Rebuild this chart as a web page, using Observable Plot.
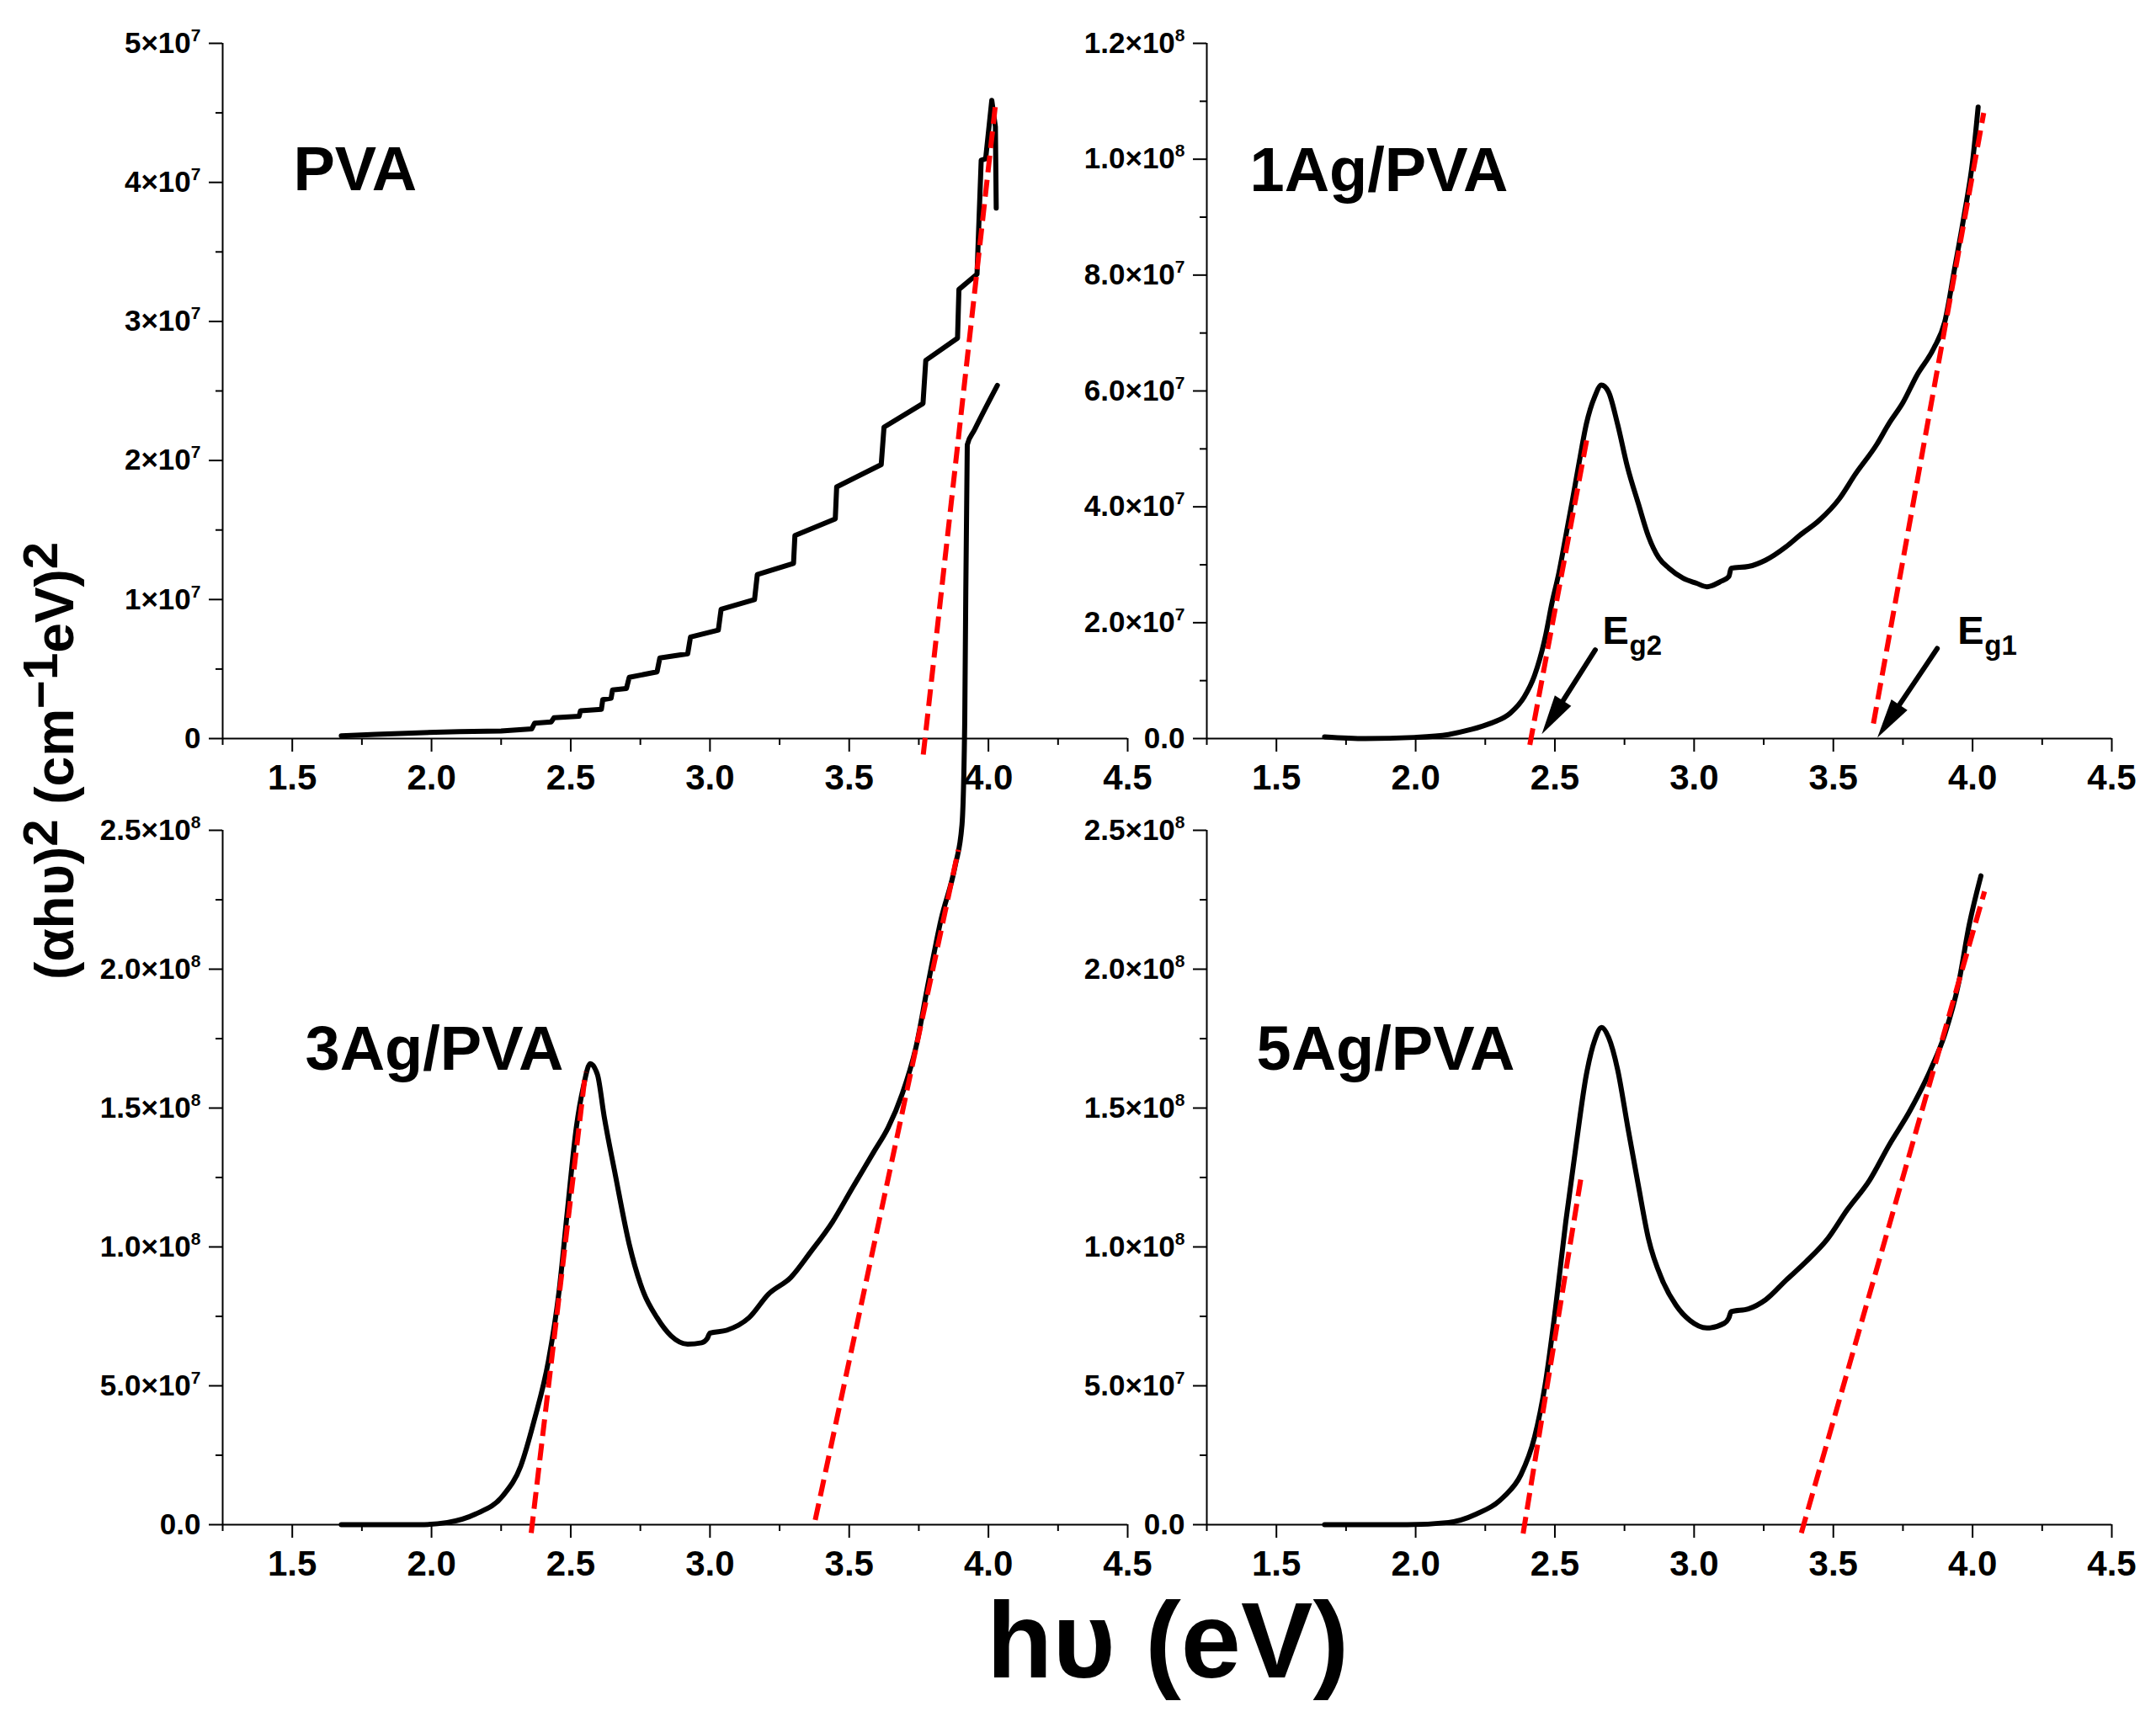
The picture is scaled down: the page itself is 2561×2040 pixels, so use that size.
<!DOCTYPE html>
<html>
<head>
<meta charset="utf-8">
<script src="https://cdn.jsdelivr.net/npm/d3@7"></script>
<script src="https://cdn.jsdelivr.net/npm/@observablehq/plot@0.6"></script>
<style>
html, body { margin: 0; padding: 0; background: #fff; overflow: hidden; }
#chart { position: relative; width: 2561px; height: 2040px; background: #fff; font-family: "Liberation Sans", Arial, sans-serif; }
#chart svg { position: absolute; left: 0; top: 0; }
</style>
</head>
<body>
<div id="chart"></div>
<script>
// ---------------- DATA ----------------
// photon energy hv (eV) and (alpha h nu)^2
// PVA and 1Ag/PVA values in units of 10^7, 3Ag/PVA and 5Ag/PVA in units of 10^8
const pvaHv = [1.676,1.80,1.93,2.10,2.25,2.36,2.37,2.43,2.44,2.53,2.535,2.61,2.615,2.645,2.65,2.70,2.71,2.81,2.82,2.92,2.93,3.03,3.04,3.16,3.17,3.30,3.305,3.45,3.455,3.615,3.625,3.765,3.775,3.889,3.894,3.959,3.974,3.99,4.012,4.025,4.028];
const pvaY  = [0.02,0.03,0.04,0.05,0.055,0.07,0.11,0.12,0.15,0.16,0.20,0.21,0.28,0.29,0.35,0.36,0.44,0.48,0.58,0.61,0.73,0.78,0.93,1.00,1.18,1.26,1.46,1.58,1.81,1.97,2.24,2.41,2.72,2.88,3.23,3.34,4.16,4.17,4.59,4.40,3.815];

const ag1Hv = [1.673,1.82,1.995,2.118,2.193,2.267,2.34,2.39,2.427,2.465,2.49,2.514,2.539,2.564,2.588,2.613,2.643,2.667,2.692,2.725,2.76,2.80,2.836,2.873,2.91,2.96,3.009,3.046,3.095,3.125,3.133,3.195,3.257,3.33,3.38,3.45,3.52,3.58,3.655,3.70,3.75,3.80,3.86,3.90,3.935,3.97,4.00,4.02];
const ag1Y  = [0.03,0.0,0.02,0.07,0.15,0.26,0.44,0.72,1.09,1.74,2.35,2.85,3.49,4.14,4.79,5.43,5.90,6.10,5.99,5.43,4.70,4.05,3.49,3.12,2.94,2.77,2.68,2.62,2.71,2.80,2.94,2.97,3.08,3.31,3.51,3.77,4.13,4.57,5.07,5.44,5.80,6.27,6.73,7.19,8.10,9.04,9.96,10.9];

const ag3Hv = [1.676,1.956,2.057,2.157,2.257,2.32,2.37,2.42,2.458,2.488,2.52,2.546,2.57,2.596,2.62,2.66,2.71,2.76,2.81,2.86,2.92,2.97,2.99,3.0,3.06,3.14,3.21,3.29,3.36,3.44,3.51,3.59,3.64,3.69,3.74,3.78,3.83,3.88,3.905,3.915,3.924,3.949,4.032];
const ag3Y  = [0,0,0.008,0.038,0.105,0.21,0.38,0.59,0.84,1.13,1.43,1.58,1.66,1.62,1.47,1.26,1.01,0.84,0.745,0.68,0.65,0.655,0.67,0.69,0.70,0.745,0.83,0.89,0.98,1.09,1.21,1.345,1.43,1.55,1.72,1.93,2.18,2.37,2.52,2.9,3.888,3.94,4.102];

const ag5Hv = [1.673,1.97,2.118,2.217,2.316,2.378,2.427,2.465,2.502,2.539,2.576,2.613,2.643,2.668,2.693,2.725,2.762,2.80,2.836,2.886,2.935,2.985,3.046,3.108,3.125,3.133,3.195,3.257,3.33,3.40,3.48,3.55,3.63,3.70,3.775,3.85,3.90,3.95,3.988,4.03];
const ag5Y  = [0,0,0.008,0.038,0.10,0.18,0.315,0.504,0.777,1.09,1.365,1.62,1.744,1.79,1.754,1.64,1.43,1.22,1.03,0.88,0.79,0.735,0.708,0.725,0.745,0.767,0.777,0.81,0.88,0.945,1.03,1.134,1.24,1.366,1.49,1.64,1.765,1.95,2.16,2.336];

// linear (Tauc) fits drawn as red dashed lines
const pvaFits = [{x1: 3.766, y1: -0.115, x2: 4.025, y2: 4.556}];
const ag1Fits = [{x1: 2.41, y1: -0.11, x2: 2.618, y2: 5.25}, {x1: 3.644, y1: 0.26, x2: 4.04, y2: 10.8}];
const ag3Fits = [{x1: 2.358, y1: -0.03, x2: 2.553, y2: 1.63}, {x1: 3.378, y1: 0.017, x2: 3.892, y2: 2.43}];
const ag5Fits = [{x1: 2.386, y1: -0.032, x2: 2.594, y2: 1.25}, {x1: 3.385, y1: -0.03, x2: 4.043, y2: 2.28}];

// band-gap annotations (1Ag/PVA panel)
const gapArrows = [{x1: 2.645, y1: 1.53, x2: 2.453, y2: 0.077}, {x1: 3.873, y1: 1.554, x2: 3.658, y2: 0.015}];
const gapLabels = [{main: "E", sub: "g2", x: 2.671, y: 1.64}, {main: "E", sub: "g1", x: 3.946, y: 1.64}];

const panelNames = ["PVA", "1Ag/PVA", "3Ag/PVA", "5Ag/PVA"];

// axes
const xDomain = [1.25, 4.5];
const xMajorTicks = [1.5, 2.0, 2.5, 3.0, 3.5, 4.0, 4.5];
const xTickLabels = ["1.5", "2.0", "2.5", "3.0", "3.5", "4.0", "4.5"];
const xMinorTicks = [1.25, 1.75, 2.25, 2.75, 3.25, 3.75, 4.25];

const pvaYDomain = [0, 5];
const pvaYTicks = [0, 1, 2, 3, 4, 5];
const pvaYLabels = ["0", "1×10^7", "2×10^7", "3×10^7", "4×10^7", "5×10^7"];
const pvaYMinor = [0.5, 1.5, 2.5, 3.5, 4.5];

const ag1YDomain = [0, 12];
const ag1YTicks = [0, 2, 4, 6, 8, 10, 12];
const ag1YLabels = ["0.0", "2.0×10^7", "4.0×10^7", "6.0×10^7", "8.0×10^7", "1.0×10^8", "1.2×10^8"];
const ag1YMinor = [1, 3, 5, 7, 9, 11];

const agYDomain = [0, 2.5];
const agYTicks = [0, 0.5, 1.0, 1.5, 2.0, 2.5];
const agYLabels = ["0.0", "5.0×10^7", "1.0×10^8", "1.5×10^8", "2.0×10^8", "2.5×10^8"];
const agYMinor = [0.25, 0.75, 1.25, 1.75, 2.25];

// ---------------- LAYOUT ----------------
const W = 2561, H = 2040;
const FONT = '"Liberation Sans", Arial, sans-serif';
const frames = [
  {left: 264, right: 1339, top: 51, bottom: 877},
  {left: 1433, right: 2508, top: 51, bottom: 877},
  {left: 264, right: 1339, top: 986, bottom: 1811},
  {left: 1433, right: 2508, top: 986, bottom: 1811}
];
const labelOffsets = [[84, 174], [51, 175], [98, 284], [59, 284]];

const zip = (xs, ys) => xs.map((x, i) => ({x, y: ys[i]}));

const panels = [
  {curve: zip(pvaHv, pvaY), fits: pvaFits, yDomain: pvaYDomain, yTicks: pvaYTicks, yLabels: pvaYLabels, yMinor: pvaYMinor, interp: "linear"},
  {curve: zip(ag1Hv, ag1Y), fits: ag1Fits, yDomain: ag1YDomain, yTicks: ag1YTicks, yLabels: ag1YLabels, yMinor: ag1YMinor, interp: "monotone-x", gap: true},
  {curve: zip(ag3Hv, ag3Y), fits: ag3Fits, yDomain: agYDomain, yTicks: agYTicks, yLabels: agYLabels, yMinor: agYMinor, interp: "monotone-x"},
  {curve: zip(ag5Hv, ag5Y), fits: ag5Fits, yDomain: agYDomain, yTicks: agYTicks, yLabels: agYLabels, yMinor: agYMinor, interp: "monotone-x"}
];

const chart = document.getElementById("chart");
const xFmt = new Map(xMajorTicks.map((t, i) => [t, xTickLabels[i]]));

panels.forEach((p, k) => {
  const f = frames[k];
  const yFmt = new Map(p.yTicks.map((t, i) => [t, p.yLabels[i]]));
  const marks = [
    Plot.ruleY([p.yDomain[0]], {stroke: "black", strokeWidth: 2}),
    Plot.ruleX([xDomain[0]], {stroke: "black", strokeWidth: 2}),
    Plot.axisX(xMinorTicks, {tickSize: 8, strokeWidth: 2, tickFormat: () => "", label: null}),
    Plot.axisX(xMajorTicks, {tickSize: 16, tickPadding: 15, strokeWidth: 2, tickFormat: d => xFmt.get(d), fontSize: 42, label: null}),
    Plot.axisY(p.yMinor, {tickSize: 8, strokeWidth: 2, tickFormat: () => "", label: null}),
    Plot.axisY(p.yTicks, {tickSize: 16, tickPadding: 10, strokeWidth: 2, tickFormat: d => yFmt.get(d), fontSize: 35, label: null}),
    Plot.line(p.curve, {x: "x", y: "y", stroke: "black", strokeWidth: 6, curve: p.interp}),
    Plot.link(p.fits, {x1: "x1", y1: "y1", x2: "x2", y2: "y2", stroke: "#ff0000", strokeWidth: 6, strokeDasharray: "20,9"}),
    Plot.text([panelNames[k]], {frameAnchor: "top-left", dx: labelOffsets[k][0], dy: labelOffsets[k][1], textAnchor: "start", lineAnchor: "bottom", fontSize: 74, fontWeight: "bold", fill: "black"})
  ];
  if (p.gap) {
    marks.push(
      Plot.arrow(gapArrows, {x1: "x1", y1: "y1", x2: "x2", y2: "y2", stroke: "black", strokeWidth: 6, headAngle: 32, headLength: 12}),
      Plot.text(gapLabels, {x: "x", y: "y", text: "main", textAnchor: "start", lineAnchor: "bottom", fontSize: 47, fontWeight: "bold", fill: "black"}),
      Plot.text(gapLabels, {x: "x", y: "y", text: "sub", textAnchor: "start", lineAnchor: "bottom", dx: 32, dy: 13, fontSize: 33, fontWeight: "bold", fill: "black"})
    );
  }
  const svg = Plot.plot({
    width: W,
    height: H,
    marginLeft: f.left,
    marginRight: W - f.right,
    marginTop: f.top,
    marginBottom: H - f.bottom,
    style: {background: "transparent", overflow: "visible", fontFamily: FONT, fontWeight: "bold", color: "black"},
    x: {domain: xDomain},
    y: {domain: p.yDomain},
    marks
  });
  // superscripts in y tick labels
  d3.select(svg).selectAll('g[aria-label="y-axis tick label"] text').each(function () {
    const s = this.textContent;
    if (s.includes("^")) {
      const [base, exp] = s.split("^");
      const t = d3.select(this);
      t.text(base);
      t.append("tspan").attr("dy", -14).attr("font-size", "0.6em").text(exp);
    }
  });
  d3.select(svg).selectAll('g[aria-label="x-axis tick label"]').attr("font-size", 42).attr("font-weight", "bold");
  d3.select(svg).selectAll('g[aria-label="y-axis tick label"]').attr("font-size", 35).attr("font-weight", "bold");
  // solid (filled) arrowheads, as in the original figure
  d3.select(svg).selectAll('g[aria-label="arrow"] path').each(function () {
    const n = (this.getAttribute("d") || "").match(/-?\d*\.?\d+(?:e[-+]?\d+)?/g);
    if (!n || n.length < 4) return;
    const [x1, y1, x2, y2] = n.slice(0, 4).map(Number);
    const dx = x2 - x1, dy = y2 - y1, L = Math.hypot(dx, dy);
    const ux = dx / L, uy = dy / L, hl = 47, hw = 11.5;
    const bx = x2 - ux * hl, by = y2 - uy * hl;
    this.setAttribute("d", `M${x1},${y1}L${bx + ux * 6},${by + uy * 6}`);
    const tri = document.createElementNS("http://www.w3.org/2000/svg", "path");
    tri.setAttribute("d", `M${x2},${y2}L${bx - uy * hw},${by + ux * hw}L${bx + uy * hw},${by - ux * hw}Z`);
    tri.setAttribute("fill", "black");
    tri.setAttribute("stroke", "none");
    this.parentNode.appendChild(tri);
  });
  chart.appendChild(svg);
});

// axis titles
const ov = d3.select(chart).append("svg")
  .attr("width", W).attr("height", H)
  .attr("font-family", FONT).attr("font-weight", "bold").attr("fill", "black");

const yt = ov.append("text")
  .attr("transform", "translate(87,904) rotate(-90)")
  .attr("text-anchor", "middle")
  .attr("font-size", 64);
yt.append("tspan").text("(αhυ)");
yt.append("tspan").attr("dy", -19).attr("font-size", 58).text("2");
yt.append("tspan").attr("dy", 19).text(" (cm");
yt.append("tspan").attr("dy", -19).attr("font-size", 58).text("−1");
yt.append("tspan").attr("dy", 19).text("eV)");
yt.append("tspan").attr("dy", -19).attr("font-size", 58).text("2");

ov.append("text")
  .attr("x", 1387).attr("y", 1993)
  .attr("text-anchor", "middle")
  .attr("font-size", 128)
  .text("hυ (eV)");
</script>
</body>
</html>
